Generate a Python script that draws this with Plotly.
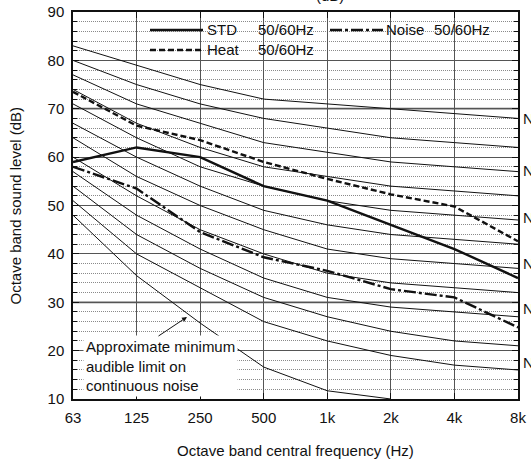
import plotly.graph_objects as go

# ---------------- data ----------------
freq_labels = ["63", "125", "250", "500", "1k", "2k", "4k", "8k"]

nc20 = [51, 40, 33, 26, 22, 19, 17, 16]
nc25 = [54, 44, 37, 31, 27, 24, 22, 21]
nc30 = [57, 48, 41, 35, 31, 29, 28, 27]
nc35 = [60, 52, 45, 40, 36, 34, 33, 32]
nc40 = [64, 56, 50, 45, 41, 39, 38, 37]
nc45 = [67, 60, 54, 49, 46, 44, 43, 42]
nc50 = [71, 64, 58, 54, 51, 49, 48, 47]
nc55 = [74, 67, 62, 58, 56, 54, 53, 52]
nc60 = [77, 71, 67, 63, 61, 59, 58, 57]
nc65 = [80, 75, 71, 68, 66, 64, 63, 62]
nc70 = [83, 79, 75, 72, 71, 70, 69, 68]
nc_curves = [nc20, nc25, nc30, nc35, nc40, nc45, nc50, nc55, nc60, nc65, nc70]

audible_limit = [48, 35.5, 25.7, 16.6, 11.7, 10]

std_level = [59, 62, 60, 54, 51, 46, 41, 35]
heat_level = [73.5, 66.5, 63.5, 59, 55.5, 52.3, 49.8, 42.6]
noise_level = [58, 53.5, 44.5, 39.3, 36.5, 32.7, 31, 24.8]

nc_label_text = ["NC-70", "NC-60", "NC-50", "NC-40", "NC-30", "NC-20"]
nc_label_y = [67.9, 57.2, 47.5, 38.0, 28.8, 17.6]

FONT = "Liberation Sans, Arial, sans-serif"

W, H = 531, 460
# plot area in pixels (as measured on the reference)
L, R, T, B = 73, 518, 12, 399

fig = go.Figure()

for c in nc_curves:
    fig.add_trace(go.Scatter(x=freq_labels, y=c, mode="lines",
                             line=dict(color="#111", width=1), showlegend=False,
                             hoverinfo="skip"))
fig.add_trace(go.Scatter(x=freq_labels[:len(audible_limit)], y=audible_limit, mode="lines",
                         line=dict(color="#111", width=1), showlegend=False))

fig.add_trace(go.Scatter(x=freq_labels, y=std_level, mode="lines", name="STD",
                         line=dict(color="#111", width=2.4), showlegend=False))
fig.add_trace(go.Scatter(x=freq_labels, y=heat_level, mode="lines", name="Heat",
                         line=dict(color="#111", width=2.4, dash="6px,3px"), showlegend=False))
fig.add_trace(go.Scatter(x=freq_labels, y=noise_level, mode="lines", name="Noise",
                         line=dict(color="#111", width=2.4, dash="12px,3px,3px,3px"),
                         showlegend=False))


def px2x(px):
    """pixel x -> paper x"""
    return (px - L) / float(R - L)


def py2y(py):
    """pixel y -> paper y"""
    return (B - py) / float(B - T)


shapes = []
# emphasised grid lines
for yv in (30, 70):
    shapes.append(dict(type="line", xref="paper", x0=0, x1=1, yref="y", y0=yv, y1=yv,
                       line=dict(color="#b0b0b0", width=2.5), layer="below"))
# legend background box
shapes.append(dict(type="rect", xref="paper", x0=px2x(147), x1=px2x(515), yref="y", y0=79.3, y1=90,
                   fillcolor="white", line=dict(width=0), layer="between"))

# legend samples
shapes.append(dict(type="line", xref="paper", yref="paper", x0=px2x(150), x1=px2x(203),
                   y0=py2y(30), y1=py2y(30), line=dict(color="#111", width=2.4)))
shapes.append(dict(type="line", xref="paper", yref="paper", x0=px2x(330), x1=px2x(383),
                   y0=py2y(30), y1=py2y(30),
                   line=dict(color="#111", width=2.4, dash="12px,3px,3px,3px")))
shapes.append(dict(type="line", xref="paper", yref="paper", x0=px2x(150), x1=px2x(203),
                   y0=py2y(50), y1=py2y(50), line=dict(color="#111", width=2.4, dash="6px,3px")))

annotations = []
for txt, px, py in [("STD", 205, 30), ("50/60Hz", 256, 30), ("Noise", 384, 30),
                    ("50/60Hz", 432, 30), ("Heat", 205, 50), ("50/60Hz", 256, 50)]:
    annotations.append(dict(text=txt, xref="paper", yref="paper", x=px2x(px), y=py2y(py),
                            xanchor="left", yanchor="middle", showarrow=False,
                            font=dict(family=FONT, size=15, color="#111")))

for txt, yv in zip(nc_label_text, nc_label_y):
    annotations.append(dict(text=txt, xref="paper", yref="y", x=1, y=yv, xshift=3,
                            xanchor="left", yanchor="middle", showarrow=False,
                            font=dict(family=FONT, size=15, color="#111")))

# clipped title at top
annotations.append(dict(text="(dB)", xref="paper", yref="paper", x=px2x(330), y=py2y(6),
                        xanchor="center", yanchor="bottom", showarrow=False,
                        font=dict(family=FONT, size=15, color="#111")))

# axis titles
annotations.append(dict(text="Octave band central frequency (Hz)", xref="paper", yref="paper",
                        x=0.5, y=py2y(450), xanchor="center", yanchor="middle", showarrow=False,
                        font=dict(family=FONT, size=15, color="#111")))
annotations.append(dict(text="Octave band sound level (dB)", xref="paper", yref="paper",
                        x=px2x(15), y=0.5, xanchor="center", yanchor="middle", showarrow=False,
                        textangle=-90, font=dict(family=FONT, size=15, color="#111")))

# audible limit note
annotations.append(dict(text="Approximate minimum<br>audible limit on<br>continuous noise",
                        xref="paper", yref="paper", x=px2x(83), y=py2y(397),
                        xanchor="left", yanchor="bottom", align="left", showarrow=False,
                        bgcolor="white", borderpad=2,
                        font=dict(family=FONT, size=15, color="#111")))
annotations.append(dict(text="", xref="paper", yref="paper", x=px2x(187), y=py2y(317),
                        ax=-30, ay=20, showarrow=True, arrowhead=2, arrowsize=1,
                        arrowwidth=1, arrowcolor="#111"))

fig.update_layout(
    width=W, height=H,
    margin=dict(l=L, r=W - R, t=T, b=H - B, autoexpand=False),
    paper_bgcolor="white", plot_bgcolor="white",
    font=dict(family=FONT, size=15, color="#111"),
    shapes=shapes, annotations=annotations,
    showlegend=False,
)

fig.update_xaxes(
    type="category", categoryorder="array", categoryarray=freq_labels,
    range=[0, 7], showgrid=True, gridcolor="#555", gridwidth=1,
    showline=True, linecolor="#111", linewidth=1.5, mirror="ticks",
    ticks="inside", ticklen=6, tickcolor="#111", automargin=False,
    tickfont=dict(family=FONT, size=15), ticklabelstandoff=4, ticklabeloverflow="allow",
)
fig.update_yaxes(
    range=[10, 90], dtick=10, tick0=10, showgrid=True, gridcolor="#555", gridwidth=1,
    showline=True, linecolor="#111", linewidth=1.5, mirror="ticks",
    ticks="inside", ticklen=6, tickcolor="#111", automargin=False,
    minor=dict(dtick=2, showgrid=True, gridcolor="#8a8a8a", griddash="1px,1px", gridwidth=1,
               ticks="inside", ticklen=4, tickcolor="#111"),
    tickfont=dict(family=FONT, size=15), ticklabelstandoff=4, ticklabeloverflow="allow",
    zeroline=False,
)

# remove the default page margin so the figure sits at the window's top-left corner
fig.write_html("out.html", config={"displayModeBar": False},
               post_script="document.body.style.margin='0';")
